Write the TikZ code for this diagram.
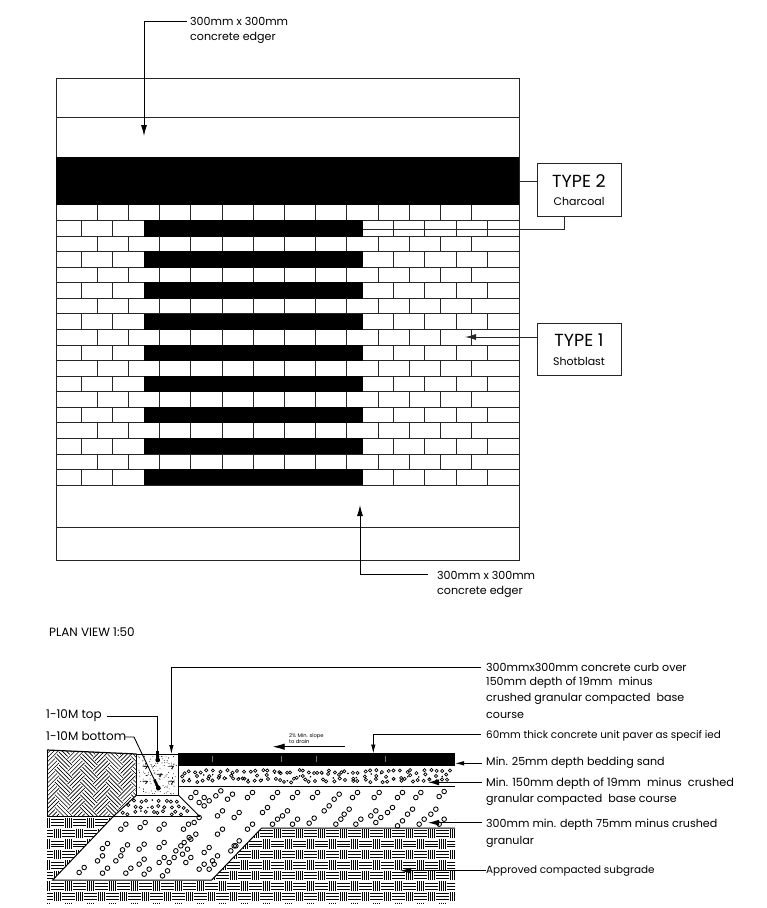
\documentclass[tikz,border=0pt]{standalone}
\usepackage{fontspec}
\setmainfont{Poppins}
\usetikzlibrary{arrows.meta}
\tikzset{
  planline/.style={draw=black!85,line width=0.9pt},
  leader/.style={draw=black,line width=0.9pt},
  tipbig/.style={-{Latex[length=11pt,width=6pt]}},
  tipsmall/.style={-{Latex[length=9pt,width=4.5pt]}},
  lab/.style={anchor=west,inner sep=0pt,font=\fontsize{11.1}{13}\selectfont},
  labslim/.style={anchor=west,inner sep=0pt,font=\fontsize{10.4}{13}\selectfont},
  labwide/.style={anchor=west,inner sep=0pt,font=\fontsize{11.3}{13}\selectfont},
  labtall/.style={anchor=west,inner sep=0pt,font=\fontsize{12}{14}\selectfont},
  lablarge/.style={anchor=center,inner sep=0pt,font=\fontsize{17.5}{20}\selectfont},
  labsub/.style={anchor=center,inner sep=0pt,font=\fontsize{11}{13}\selectfont},
  typebox/.style={draw=black!85,line width=0.9pt,fill=white},
  hatchh/.style={line width=0.85pt,black},
  hatchv/.style={line width=0.7pt,black},
  hatchd/.style={line width=0.62pt,black},
  stone/.style={line width=0.85pt,black},
  grit/.style={line width=0.7pt,black}
}
\begin{document}
\begin{tikzpicture}[x=1pt,y=-1pt]
\useasboundingbox (0,0) rectangle (767,908);
% ---------- plan ----------
\draw[planline] (56,78) rectangle (519,560.5);
\draw[planline] (56,117) -- (519,117);
\fill[black] (56,157) rectangle (519,205);
\draw[planline] (56,527) -- (519,527);
\foreach \r in {0,...,17}{
  \pgfmathsetmacro\ya{205+\r*15.56}
  \pgfmathsetmacro\yb{205+(\r+1)*15.56}
  \draw[planline] (56,\yb) -- (519,\yb);
  \ifodd\r
    \foreach \k in {0,1,2,9,10,11,12,13}{
      \pgfmathsetmacro\xx{81.7+\k*31.2}
      \draw[planline] (\xx,\ya) -- (\xx,\yb);
    }
    \fill[black] (143.6,\ya-0.4) rectangle (362.6,\yb+0.4);
  \else
    \foreach \k in {0,...,12}{
      \pgfmathsetmacro\xx{97.3+\k*31.2}
      \draw[planline] (\xx,\ya) -- (\xx,\yb);
    }
  \fi
}
% plan labels
\node[lab] (edgerA) at (190,21) {300mm x 300mm};
\node[lab] at (190,38) (edgerA2) {concrete edger};
\coordinate (edgerAs) at (187,21);
\coordinate (edgerAc) at (144,21);
\coordinate (edgerAt) at (144,136);
\draw[leader,tipbig] (edgerAs) -- (edgerAc) -- (edgerAt);
\node[lab] (edgerB) at (437,575) {300mm x 300mm};
\node[lab] (edgerB2) at (437,592) {concrete edger};
\coordinate (edgerBs) at (428,574);
\coordinate (edgerBc) at (360,574);
\coordinate (edgerBt) at (360,505);
\draw[leader,tipbig] (edgerBs) -- (edgerBc) -- (edgerBt);
\node[labtall] (planview) at (49,632) {PLAN VIEW 1:50};
% type boxes
\node[typebox,minimum width=84pt,minimum height=52.5pt,inner sep=0pt] (typetwo) at (579,190) {};
\node[lablarge] (typetwoa) at (579,181.5) {TYPE 2};
\node[labsub] (typetwob) at (579,201) {Charcoal};
\node[typebox,minimum width=84pt,minimum height=52.5pt,inner sep=0pt] (typeone) at (579,349.5) {};
\node[lablarge] (typeonea) at (579,340.5) {TYPE 1};
\node[labsub] (typeoneb) at (579,361) {Shotblast};
\coordinate (bandR) at (519,181.7);
\coordinate (blackR) at (363,229);
\coordinate (blackC) at (564,229);
\coordinate (brickT) at (465,337);
\draw[planline] (typetwo.west |- bandR) -- (bandR);
\draw[planline] (blackR) -- (blackC) -- (typetwo.south -| blackC);
\draw[planline,tipbig] (typeone.west |- brickT) -- (brickT);
% ---------- section ----------
% subgrade weave
\begin{scope}
\clip (47,816.7) -- (455,816.7) -- (455,903) -- (47,903) -- cycle;
\foreach \i in {0,...,38}{
 \foreach \j in {0,...,8}{
  \pgfmathsetmacro\cx{46.3+\i*11}
  \pgfmathsetmacro\cy{817.5+\j*10.56}
  \ifodd\numexpr\i+\j\relax
   \foreach \m in {2.4,5.3,8.2}{\draw[hatchh] (\cx-6.3,\cy+\m) -- (\cx+6.3,\cy+\m);}
  \else
   \foreach \m in {-3.2,-1.1,1.1,3.2}{\draw[hatchv] (\cx+\m,\cy+0.6) -- (\cx+\m,\cy+10);}
  \fi
 }
}
\end{scope}
% white base course region
\fill[white] (178.3,786) -- (178.3,795) -- (200,816.7) -- (113,816.7) -- (52.7,880) -- (211.7,880) -- (261.7,828) -- (455,828) -- (455,786) -- cycle;
% soil weave
\begin{scope}
\clip (47,750) -- (136.7,754) -- (136.7,795) -- (113,816.7) -- (47,816.7) -- cycle;
\begin{scope}[shift={(92,783)},rotate=45]
\foreach \i in {-8,...,8}{
 \foreach \j in {-8,...,8}{
  \pgfmathtruncatemacro\tw{mod(\i+\j+100,4)}
  \ifnum\tw<2
   \foreach \m in {1.5,4.5,7.5}{\draw[hatchd] (\i*9,\j*9+\m) -- (\i*9+9,\j*9+\m);}
  \else
   \foreach \m in {1.5,4.5,7.5}{\draw[hatchd] (\i*9+\m,\j*9) -- (\i*9+\m,\j*9+9);}
  \fi
 }
}
\end{scope}
\end{scope}
% paver
\fill[black] (178.3,753.3) rectangle (455,766);
\foreach \xx in {212,281.7,316.7,385.7}{\draw[black!55,line width=0.6pt] (\xx,756) -- (\xx,762);}
% outlines
\draw[line width=1pt] (47,816.7) -- (200,816.7);
\draw[line width=0.9pt] (47,750) -- (47,816.7);
\draw[line width=1.2pt] (47,750) -- (136.7,754);
\draw[line width=1pt] (136.7,795) -- (113,816.7) -- (52.7,880) -- (211.7,880) -- (261.7,828) -- (455,828);
\draw[line width=0.9pt] (178.3,795) -- (200,816.7);
\draw[line width=0.9pt] (178.3,786) -- (455,786);
\draw[line width=0.9pt] (136.7,754.3) rectangle (178.3,795);
% fine gravel, jittered grid
\pgfmathsetseed{11}
\foreach \i in {0,...,44}{
  \pgfmathsetmacro\pxa{182+\i*6+rnd*4}
  \pgfmathsetmacro\pya{770+rnd*3.5}
  \pgfmathsetmacro\pxb{182+\i*6+rnd*4}
  \pgfmathsetmacro\pyb{777.5+rnd*5}
  \pgfmathsetmacro\pxd{182+\i*6+rnd*4}
  \pgfmathsetmacro\pyd{773+rnd*6}
  \draw[grit] (\pxa,\pya) circle[radius=1.6pt] (\pxb,\pyb) circle[radius=1.6pt];
  \ifodd\i
    \pgfmathsetmacro\pxc{182+\i*6+rnd*4}
    \pgfmathsetmacro\pyc{773+rnd*8}
    \fill (\pxc,\pyc) circle[radius=0.9pt];
  \else
    \draw[grit] (\pxd,\pyd) circle[radius=1.6pt];
  \fi
}
% fine gravel under the curb
\foreach \yy/\xa/\nn in {799/134/7,805/128/9,811/121/11}{
  \foreach \i in {0,...,\nn}{
    \pgfmathsetmacro\pxa{\xa+\i*6+rnd*3}
    \pgfmathsetmacro\pya{\yy+rnd*3.5}
    \ifnum\i=3
      \fill (\pxa,\pya) circle[radius=0.9pt];
    \else
      \draw[grit] (\pxa,\pya) circle[radius=1.6pt];
    \fi
  }
}
% curb stipple
\foreach \n in {1,...,130}{
  \pgfmathsetmacro\px{138+rnd*39}
  \pgfmathsetmacro\py{756+rnd*38}
  \fill (\px,\py) circle[radius=0.45pt];
}
\foreach \px/\py in {145/767,171/767,159/775,145/782,171/782}{
  \draw[line width=0.8pt] (\px-2.5,\py-0.8) -- (\px+2.5,\py-0.8) -- (\px+0.5,\py+2);
}
% coarse stone pairs: positions in zoom coordinates
\foreach \X/\Y in {280/560,338/555,395/560,468/560,500/540,470/600,490/590,570/575,610/625,225/618,285/622,335/620,395/615,445/625,465/635,530/630,210/655,265/655,335/665,395/660,425/660,475/660,515/680,155/690,225/692,295/692,350/695,405/700,555/655,660/560,620/610,545/680,490/465,515/480,565/460,600/470,660/465,530/490,570/520,620/525}{
  \pgfmathsetmacro\px{30+\X/3}
  \pgfmathsetmacro\py{640+\Y/3}
  \draw[stone] (\px-2.5,\py+2.5) circle[radius=2.3pt] (\px+2.5,\py-2.5) circle[radius=2.3pt];
}
\foreach \X/\Y in {45/435,105/435,165/435,230/440,285/435,350/435,420/435,475/435,545/432,15/480,75/490,200/475,260/485,340/490,390/480,450/485,520/485,45/515,105/515,155/512,235/515,295/515,355/510,420/520,485/515,545/515}{
  \pgfmathsetmacro\px{260+\X/3}
  \pgfmathsetmacro\py{650+\Y/3}
  \draw[stone] (\px-2.5,\py+2.5) circle[radius=2.3pt] (\px+2.5,\py-2.5) circle[radius=2.3pt];
}
% section labels
\node[labtall] (tn) at (46,716) {1-10M top};
\node[labtall] (bn) at (46,736.5) {1-10M bottom};
\coordinate (tna) at (106.7,716.7);
\coordinate (tnb) at (157.7,716.7);
\coordinate (tnc) at (157.7,760);
\coordinate (bna) at (125,737);
\coordinate (bnb) at (134,737);
\coordinate (bnc) at (158.3,788);
\draw[leader] (tna) -- (tnb) -- (tnc);
\draw[line width=3pt] (157.7,751) -- (tnc);
\fill (tnc) circle[radius=2.4pt];
\draw[leader] (bna) -- (bnb) -- (bnc);
\draw[line width=2.5pt] (154.3,779.5) -- (bnc);
\fill (bnc) circle[radius=2.4pt];
\node[lab] (l1) at (486,667) {300mmx300mm concrete curb over};
\node[lab] (l2) at (486,683) {150mm depth of 19mm~ minus};
\node[lab] (l3) at (486,699) {crushed granular compacted~ base};
\node[lab] (l4) at (486,715) {course};
\node[labslim] (l5) at (486,736) {60mm thick concrete unit paver as specif ied};
\node[lab] (l6) at (486,763) {Min. 25mm depth bedding sand};
\node[labwide] (l7) at (486,784) {Min. 150mm depth of 19mm~ minus~ crushed};
\node[lab] (l8) at (486,800) {granular compacted~ base course};
\node[lab] (l9) at (486,825) {300mm min. depth 75mm minus crushed};
\node[lab] (l10) at (486,842) {granular};
\node[labslim] (l11) at (486,871.5) {Approved compacted subgrade};
\coordinate (c1s) at (481,667.3);
\coordinate (c1c) at (171.4,667.3);
\coordinate (c1t) at (171.4,754);
\draw[leader,tipsmall] (c1s) -- (c1c) -- (c1t);
\coordinate (c5s) at (481,734.3);
\coordinate (c5c) at (373.3,734.3);
\coordinate (c5t) at (373.3,753.5);
\draw[leader,tipsmall] (c5s) -- (c5c) -- (c5t);
\coordinate (c6s) at (482,763.3);
\coordinate (c6t) at (455,763.3);
\draw[leader,tipsmall] (c6s) -- (c6t);
\coordinate (c7s) at (482,782.3);
\coordinate (c7t) at (428,782.3);
\draw[leader,tipbig] (c7s) -- (c7t);
\coordinate (c9s) at (482,822.7);
\coordinate (c9t) at (428,822.7);
\draw[leader,tipbig] (c9s) -- (c9t);
\coordinate (c11s) at (486,870.7);
\coordinate (c11t) at (400,870.7);
\draw[leader,tipbig] (c11s) -- (c11t);
% slope
\node[anchor=west,inner sep=0pt,font=\fontsize{5.2}{6}\selectfont,align=left] (slope) at (289,738.5) {2\% Min. slope\\to drain};
\coordinate (sla) at (345,746.7);
\coordinate (slb) at (272.7,746.7);
\draw[leader,-{Latex[length=12pt,width=6.5pt]}] (sla) -- (slb);
\end{tikzpicture}
\end{document}
